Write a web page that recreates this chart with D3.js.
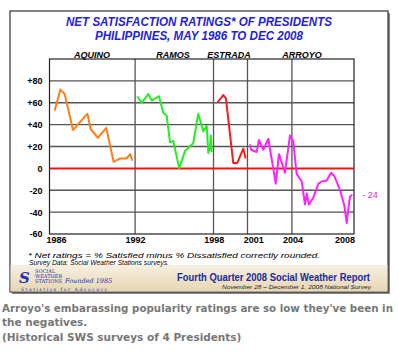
<!DOCTYPE html>
<html>
<head>
<meta charset="utf-8">
<script src="https://cdn.jsdelivr.net/npm/d3@7"></script>
<style>
  body { margin: 0; background: #fff; }
  svg { display: block; font-family: "Liberation Sans", Arial, sans-serif; }
</style>
</head>
<body>
<div id="chart"></div>
<script>
// survey dates (decimal years) and net satisfaction values
var aquinoDates = [1986.3, 1986.73, 1987.06, 1987.7, 1988.8, 1989.05, 1989.6, 1990.25, 1990.8, 1991.27, 1991.78, 1992.08, 1992.24];
var aquinoVals  = [53, 72, 68, 35, 50, 36, 28, 37, 6, 9, 9, 13, 7];

var ramosDates = [1992.62, 1992.95, 1993.46, 1993.72, 1994.28, 1994.6, 1994.87, 1995.12, 1995.37, 1995.83, 1996.27, 1996.9, 1997.28, 1997.67, 1997.93, 1998.05, 1998.18, 1998.24, 1998.31];
var ramosVals  = [66, 60, 68, 62, 66, 51, 48, 24, 25, 0, 16, 23, 50, 34, 39, 14, 19, 30, 15];

var estradaDates = [1998.74, 1999.2, 1999.4, 1999.96, 2000.27, 2000.73, 2000.91];
var estradaVals  = [60, 67, 64, 5, 5, 18, 9];

var arroyoDates = [2001.24, 2001.32, 2001.75, 2001.93, 2002.26, 2002.64, 2003.02, 2003.21, 2003.46, 2003.92, 2004.3, 2004.55, 2004.81, 2005.2, 2005.45, 2005.58, 2005.75, 2006.08, 2006.47, 2006.73, 2007.11, 2007.44, 2007.7, 2008.13, 2008.46, 2008.64, 2008.76, 2008.89, 2009.07];
var arroyoVals  = [22, 17, 15, 26, 17, 27, 0, -14, 13, -4, 30, 25, -5, -12, -33, -23, -33, -27, -14, -12, -11, -4, -7, -20, -34, -50, -38, -26, -24];

var termStarts = [1992.45, 1998.45, 2001.05, 2004.45];
var presidentNames = ["AQUINO", "RAMOS", "ESTRADA", "ARROYO"];
var presidentLabelAt = [1989.15, 1995.35, 1999.63, 2005.22];
var xTickDates = [1986.4, 1992.45, 1998.47, 2001.49, 2004.5, 2008.48];
var xTickLabels = ["1986", "1992", "1998", "2001", "2004", "2008"];
var yTicks = [-60, -40, -20, 0, 20, 40, 60, 80];

var seriesColors = ["#ff7f17", "#22ee22", "#ff1a1a", "#ff22ff"];

var margin = { top: 59, right: 44, bottom: 117, left: 49.5 };
var W = 398, H = 351;
var width = W - margin.left - margin.right;
var height = H - margin.top - margin.bottom;

var svg = d3.select("#chart").append("svg")
    .attr("width", W)
    .attr("height", H);

// outer frame with beige footer band
var grad = svg.append("defs").append("linearGradient")
    .attr("id", "band").attr("x1", 0).attr("y1", 0).attr("x2", 0).attr("y2", 1);
grad.append("stop").attr("offset", "0%").attr("stop-color", "#f7f0e2");
grad.append("stop").attr("offset", "100%").attr("stop-color", "#e6d6b2");

svg.append("rect").attr("x", 12).attr("y", 13).attr("width", 378).attr("height", 281).attr("fill", "#888");
svg.append("rect").attr("x", 10).attr("y", 11).attr("width", 378).attr("height", 281)
    .attr("fill", "#fff").attr("stroke", "#333").attr("stroke-width", 1.2);
svg.append("rect").attr("x", 10.6).attr("y", 265).attr("width", 376.8).attr("height", 26.4)
    .attr("fill", "url(#band)");

// title
svg.append("text").attr("x", 199).attr("y", 26).attr("text-anchor", "middle")
    .attr("textLength", 266).attr("lengthAdjust", "spacingAndGlyphs")
    .style("font-size", "12.5px").style("font-weight", "bold").style("font-style", "italic")
    .attr("fill", "#1f22dd")
    .text("NET SATISFACTION RATINGS* OF PRESIDENTS");
svg.append("text").attr("x", 199).attr("y", 39.5).attr("text-anchor", "middle")
    .attr("textLength", 208).attr("lengthAdjust", "spacingAndGlyphs")
    .style("font-size", "12.5px").style("font-weight", "bold").style("font-style", "italic")
    .attr("fill", "#1f22dd")
    .text("PHILIPPINES, MAY 1986 TO DEC 2008");

var g = svg.append("g")
    .attr("transform", "translate(" + margin.left + "," + margin.top + ")");

var x = d3.scaleLinear().domain([1985.9, 2009.2]).range([0, width]);
var y = d3.scaleLinear().domain([-60, 100]).range([height, 0]);

// horizontal grid
g.selectAll(".hgrid")
    .data(yTicks.filter(function (d) { return d !== 0 && d !== -60; }))
    .enter().append("line")
    .attr("class", "hgrid")
    .attr("x1", 0).attr("x2", width)
    .attr("y1", function (d) { return y(d); })
    .attr("y2", function (d) { return y(d); })
    .attr("stroke", "#555").attr("stroke-width", 1.3);

// term boundaries
g.selectAll(".vgrid")
    .data(termStarts)
    .enter().append("line")
    .attr("class", "vgrid")
    .attr("x1", function (d) { return x(d); })
    .attr("x2", function (d) { return x(d); })
    .attr("y1", 0).attr("y2", height)
    .attr("stroke", "#555").attr("stroke-width", 1.3);

g.append("rect").attr("width", width).attr("height", height)
    .attr("fill", "none").attr("stroke", "#222").attr("stroke-width", 1.2);

// zero line
g.append("line")
    .attr("x1", 0).attr("x2", width)
    .attr("y1", y(0)).attr("y2", y(0))
    .attr("stroke", "#ff1010").attr("stroke-width", 2);

// president names above plot
g.selectAll(".pres")
    .data(presidentNames)
    .enter().append("text")
    .attr("class", "pres")
    .attr("x", function (d, i) { return x(presidentLabelAt[i]); })
    .attr("y", -1)
    .attr("text-anchor", "middle")
    .style("font-size", "9px").style("font-weight", "bold").style("font-style", "italic")
    .text(function (d) { return d; });

// axes
var yAxis = g.append("g")
    .call(d3.axisLeft(y).tickValues(yTicks).tickSize(0).tickPadding(7)
        .tickFormat(function (d) { return d > 0 ? "+" + d : d; }));
var xAxis = g.append("g")
    .attr("transform", "translate(0," + height + ")")
    .call(d3.axisBottom(x).tickValues(xTickDates).tickSize(0).tickPadding(3)
        .tickFormat(function (d, i) { return xTickLabels[i]; }));
[yAxis, xAxis].forEach(function (ax) {
    ax.select(".domain").remove();
    ax.selectAll("text")
        .attr("fill", "#000")
        .style("font-size", "9px").style("font-weight", "bold")
        .style("font-family", "'Liberation Sans', Arial, sans-serif");
});

// series lines
var line = d3.line()
    .x(function (d) { return x(d[0]); })
    .y(function (d) { return y(d[1]); });

var series = [
    d3.zip(aquinoDates, aquinoVals),
    d3.zip(ramosDates, ramosVals),
    d3.zip(estradaDates, estradaVals),
    d3.zip(arroyoDates, arroyoVals)
];

g.selectAll(".series")
    .data(series)
    .enter().append("path")
    .attr("class", "series")
    .attr("d", line)
    .attr("fill", "none")
    .attr("stroke", function (d, i) { return seriesColors[i]; })
    .attr("stroke-width", 2)
    .attr("stroke-linejoin", "round");

// last value label
var last = arroyoVals[arroyoVals.length - 1];
g.append("text")
    .attr("x", x(arroyoDates[arroyoDates.length - 1]) + 10)
    .attr("y", y(last) + 3)
    .attr("fill", "#e020e0")
    .style("font-size", "9px")
    .text("- " + Math.abs(last));

// footnotes
svg.append("text").attr("x", 28).attr("y", 258)
    .attr("textLength", 292).attr("lengthAdjust", "spacingAndGlyphs")
    .style("font-size", "7px").style("font-style", "italic")
    .text("* Net ratings = % Satisfied minus % Dissatisfied correctly rounded.");
svg.append("text").attr("x", 29).attr("y", 265)
    .attr("textLength", 140).attr("lengthAdjust", "spacingAndGlyphs")
    .style("font-size", "6.5px").style("font-style", "italic")
    .text("Survey Data: Social Weather Stations surveys.");

// footer band text
svg.append("text").attr("x", 177).attr("y", 281)
    .attr("textLength", 193).attr("lengthAdjust", "spacingAndGlyphs")
    .style("font-size", "10px").style("font-weight", "bold")
    .attr("fill", "#1a2a9e")
    .text("Fourth Quarter 2008 Social Weather Report");
svg.append("text").attr("x", 222).attr("y", 289)
    .attr("textLength", 149).attr("lengthAdjust", "spacingAndGlyphs")
    .style("font-size", "5.5px").style("font-style", "italic")
    .attr("fill", "#222")
    .text("November 28 \u2013 December 1, 2008 National Survey");

// SWS logo
svg.append("text").attr("x", 19).attr("y", 283)
    .style("font-size", "15px").style("font-weight", "bold").style("font-style", "italic")
    .style("font-family", "'DejaVu Serif', serif")
    .attr("fill", "#2233aa").text("S");
["SOCIAL", "WEATHER", "STATIONS"].forEach(function (t, i) {
    svg.append("text").attr("x", 35).attr("y", 273 + i * 5.2)
        .style("font-size", "5px").style("font-family", "'DejaVu Serif', serif")
        .attr("fill", "#2233aa").text(t);
});
svg.append("text").attr("x", 65).attr("y", 283)
    .style("font-size", "6.5px").style("font-style", "italic")
    .style("font-family", "'DejaVu Serif', serif")
    .attr("fill", "#2233aa").text("Founded 1985");
svg.append("text").attr("x", 21).attr("y", 290.5)
    .attr("textLength", 86).attr("lengthAdjust", "spacing")
    .style("font-size", "4.5px").style("font-family", "'DejaVu Serif', serif")
    .attr("fill", "#2233aa").text("Statistics for Advocacy");

// caption below the figure
var caption = [
    "Arroyo's embarassing popularity ratings are so low they've been in",
    "the negatives.",
    "(Historical SWS surveys of 4 Presidents)"
];
svg.selectAll(".caption")
    .data(caption)
    .enter().append("text")
    .attr("class", "caption")
    .attr("x", 2)
    .attr("y", function (d, i) { return 311.5 + i * 14.5; })
    .attr("textLength", function (d, i) { return i === 0 ? 391 : null; })
    .attr("lengthAdjust", "spacingAndGlyphs")
    .style("font-family", "'DejaVu Sans', Verdana, sans-serif")
    .style("font-size", function (d, i) { return i === 0 ? "9.8px" : "10.5px"; })
    .style("font-weight", "bold")
    .attr("fill", "#777")
    .text(function (d) { return d; });
</script>
</body>
</html>
